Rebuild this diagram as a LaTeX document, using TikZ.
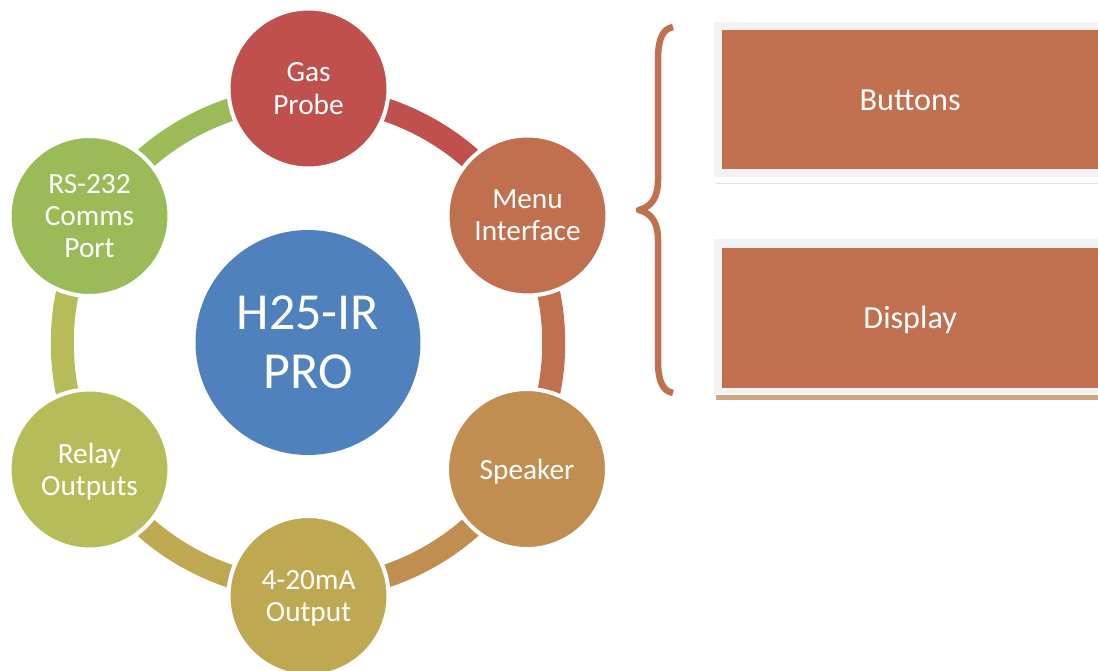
\documentclass[tikz,border=0pt]{standalone}
\usepackage{fontspec}
\setmainfont{Carlito}
\definecolor{cgas}{HTML}{C0504D}
\definecolor{cmenu}{HTML}{C0704E}
\definecolor{cspk}{HTML}{BF8E50}
\definecolor{cma}{HTML}{BFA852}
\definecolor{crelay}{HTML}{B7BC5A}
\definecolor{crs}{HTML}{9BBB59}
\definecolor{chub}{HTML}{4F81BD}
\definecolor{cframe}{HTML}{F2F2F2}
\definecolor{cfaint}{HTML}{E6E3D8}
\definecolor{ctan}{HTML}{CFA683}
\begin{document}
\begin{tikzpicture}[x=1pt,y=-1pt,
  ringarc/.style={line width=23pt, line cap=butt},
  bubble/.style={circle, fill=#1, draw=white, line width=4pt, minimum size=160pt,
    inner sep=0pt, text=white, align=center, font=\fontsize{29.3}{32.2}\selectfont, text depth=0pt},
  hubstyle/.style={circle, fill=chub, minimum size=225pt, inner sep=0pt, text=white,
    align=center, font=\fontsize{52}{59}\selectfont, text depth=0pt},
  framebox/.style={fill=cframe, anchor=north west, inner sep=0pt, minimum width=384pt, minimum height=155pt},
  panelbox/.style={fill=cmenu, anchor=north west, inner sep=0pt, minimum width=376pt, text=white,
    font=\fontsize{32.2}{36}\selectfont, text depth=0pt},
  bracestyle/.style={draw=cmenu, line width=6.5pt, line join=round}
]
\useasboundingbox (0,0) rectangle (1098,671);

% arc anchor points
\coordinate (k1) at (308,97);
\coordinate (k2) at (521,220);
\coordinate (k3) at (521,466);
\coordinate (k4) at (308,589);
\coordinate (k5) at (95,466);
\coordinate (k6) at (95,220);

\draw[ringarc, cgas]   (k1) to[bend left=30, looseness=0.91] (k2);
\draw[ringarc, cmenu]  (k2) to[bend left=30, looseness=0.91] (k3);
\draw[ringarc, cspk]   (k3) to[bend left=30, looseness=0.91] (k4);
\draw[ringarc, cma]    (k4) to[bend left=30, looseness=0.91] (k5);
\draw[ringarc, crelay] (k5) to[bend left=30, looseness=0.91] (k6);
\draw[ringarc, crs]    (k6) to[bend left=30, looseness=0.91] (k1);

\node[hubstyle] (hub) at (308,342.5) {H25-IR\\PRO};
\node[bubble=cgas]   (gas)     at (308.5,88.5) {Gas\\Probe};
\node[bubble=cmenu]  (menu)    at (527.5,215.5) {Menu\\Interface};
\node[bubble=cspk]   (speaker) at (527,469) {Speaker};
\node[bubble=cma]    (ma)      at (308.5,596) {4-20mA\\Output};
\node[bubble=crelay] (relay)   at (89.5,469.5) {Relay\\Outputs};
\node[bubble=crs]    (rs)      at (89.5,216) {RS-232\\Comms\\Port};

% brace
\draw[bracestyle] (673,27) .. controls (662,29) and (658,40) .. (658,60)
  -- (658,180) .. controls (658,198) and (651,207) .. (639,210)
  .. controls (651,213) and (658,222) .. (658,240)
  -- (658,360) .. controls (658,380) and (662,391) .. (673,393);

% panels
\node[framebox] (bframe) at (714,22) {};
\node[panelbox, minimum height=139pt] (buttons) at (722,30) {Buttons};
\draw[cfaint, line width=1.5pt] (716,183.3) -- (1098,183.3);

\node[framebox] (dframe) at (714,239) {};
\node[panelbox, minimum height=140pt] (display) at (722,247.5) {Display};
\fill[ctan] (716,395) rectangle (1098,400);
\end{tikzpicture}
\end{document}
